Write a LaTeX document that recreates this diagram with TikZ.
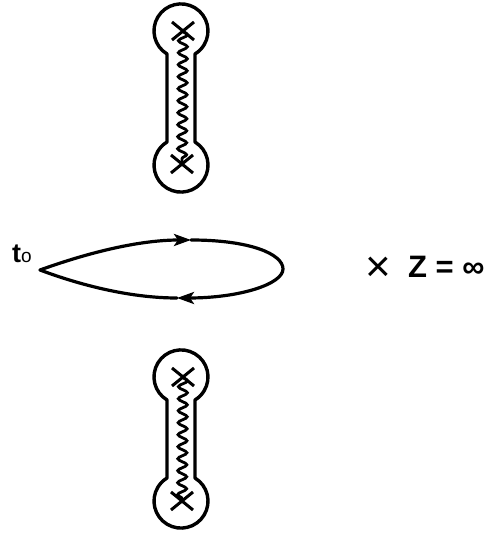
\documentclass[tikz,border=0pt]{standalone}
\usepackage{fontspec}
\setmainfont{Liberation Sans}
\usepackage{tikz}
\usetikzlibrary{arrows.meta, positioning, shapes.misc,
                decorations.pathmorphing}

\begin{document}
\begin{tikzpicture}[x=1pt, y=1pt,
  every node/.style={inner sep=0pt},
  pole/.style={cross out, draw=black, line width=3pt,
               minimum width=19pt, minimum height=15pt},
  cut/.style={draw=black, line width=2.8pt,
              decorate, decoration={snake, amplitude=4.5pt,
                                    segment length=12pt}},
  bell/.style={draw=black, line width=3.4pt, line join=round},
  orbit/.style={draw=black, line width=3.2pt, line cap=round},
  orbitarrow/.style={orbit, -{Stealth[length=17pt, width=12pt, inset=4pt]}},
  label/.style={font=\fontsize{31}{34}\selectfont},
]
\useasboundingbox (0,0) rectangle (486,541);

% ── Upper cut ──
\node[pole] (ua) at (183,510) {};
\node[pole] (ub) at (182,377) {};
\draw[bell] (167,487) arc[start angle=238.8, end angle=-58.8, radius=27]
            -- (195,399)
            arc[start angle=58.8, end angle=-238.8, radius=27] -- cycle;
\draw[cut] (ua.center) -- (ub.center);

% ── Lower cut ──
\node[pole] (la) at (183,164) {};
\node[pole] (lb) at (182,40) {};
\draw[bell] (167,141) arc[start angle=238.8, end angle=-58.8, radius=27]
            -- (195,63)
            arc[start angle=58.8, end angle=-238.8, radius=27] -- cycle;
\draw[cut] (la.center) -- (lb.center);

% ── Loop from t0 ──
\node[anchor=base west] (tzero) at (12,278)
  {\fontsize{27}{28}\selectfont\bfseries t\fontsize{19}{20}\selectfont\mdseries o};
\coordinate (tip)   at (40,271);
\coordinate (upper) at (191,301);
\coordinate (turn)  at (283,272);
\coordinate (lower) at (177,243);
\draw[orbitarrow] (tip) .. controls (90,289) and (140,301) .. (upper);
\draw[orbitarrow] (upper) .. controls (250,301) and (283,287) .. (turn)
                  .. controls (283,257) and (240,243) .. (lower);
\draw[orbit] (lower) .. controls (130,243) and (80,256) .. (tip);

% ── Point at infinity ──
\node[font=\fontsize{44}{46}\selectfont] (cross) at (378,272) {×};
\node[label, anchor=base west] (zinf) at (408,263) {\bfseries Z = ∞};

\end{tikzpicture}
\end{document}
